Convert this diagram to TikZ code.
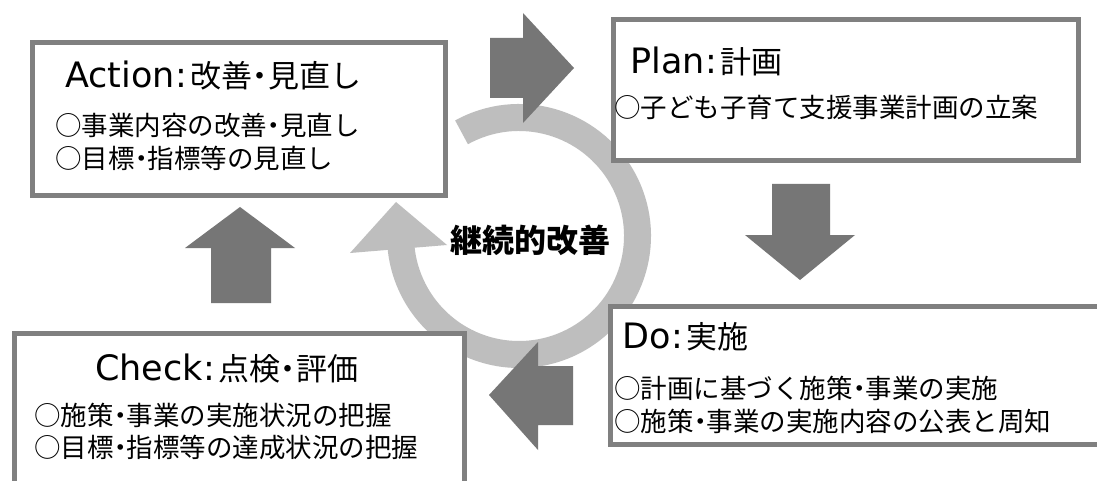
\documentclass[tikz,border=0pt]{standalone}
\usepackage{fontspec}
\setmainfont{Noto Sans CJK JP}
\newfontfamily\latfont{DejaVu Sans}
\usetikzlibrary{calc}
\definecolor{boxgray}{HTML}{808080}
\definecolor{arrowgray}{HTML}{767676}
\definecolor{ringgray}{HTML}{BEBEBE}
\newcommand{\latword}[1]{{\latfont\fontsize{35}{35}\selectfont #1}}
\newcommand{\pdcadot}{\kern-0.25em・\kern-0.25em}
\tikzset{
  pdcabox/.style={draw=boxgray, line width=5pt, fill=white, inner sep=0pt, rectangle},
  ttl/.style={anchor=base west, inner sep=0pt, font=\fontsize{31}{31}\selectfont},
  bodytxt/.style={anchor=base west, inner sep=0pt, font=\fontsize{26.5}{26.5}\selectfont},
  blockarrow/.style={fill=arrowgray, draw=none},
  ringpart/.style={ringgray},
}
\begin{document}
\begin{tikzpicture}[x=1pt,y=-1pt]
\useasboundingbox (0,0) rectangle (1097,481);
\clip (0,0) rectangle (1097,481);
\fill[white] (0,0) rectangle (1097,481);
\coordinate (rc) at (519,236);
% ring
\draw[ringpart, line width=27pt] ($(rc)+(-119:118.5)$) arc[start angle=-119, end angle=175, radius=118.5];
\fill[ringpart] (350,253) -- (396,202) -- (447,245) -- cycle;
% boxes
\node[pdcabox, minimum width=413pt, minimum height=153pt] (act) at (239,119) {};
\node[pdcabox, minimum width=465pt, minimum height=141pt] (plan) at (846,90) {};
\node[pdcabox, minimum width=497pt, minimum height=138pt] (do) at (859,375.5) {};
\node[pdcabox, minimum width=450pt, minimum height=164pt] (check) at (239.5,415.5) {};
% block arrows
\fill[blockarrow] (490,38) -- (523,38) -- (523,13) -- (574,68) -- (523,123) -- (523,98) -- (490,98) -- cycle;
\fill[blockarrow] (772,184) -- (830,184) -- (830,235) -- (855,235) -- (800,280) -- (745,235) -- (772,235) -- cycle;
\fill[blockarrow] (573,366) -- (573,425) -- (538,425) -- (538,450) -- (489,395) -- (538,342) -- (538,366) -- cycle;
\fill[blockarrow] (211,303) -- (271,303) -- (271,248) -- (295,248) -- (240,207) -- (185,248) -- (211,248) -- cycle;
% texts
\node[ttl] (actT) at (65,88) {\latword{Action\kern1pt:}\kern3pt 改善\pdcadot 見直し};
\node[bodytxt] (actB1) at (55,136) {○事業内容の改善\pdcadot 見直し};
\node[bodytxt] (actB2) at (55,169) {○目標\pdcadot 指標等の見直し};
\node[ttl] (planT) at (630,74) {\latword{Plan\kern1pt:}\kern3pt 計画};
\node[bodytxt] (planB1) at (614,118) {○子ども子育て支援事業計画の立案};
\node[ttl] (doT) at (622,348) {\latword{Do\kern1pt:}\kern3pt 実施};
\node[bodytxt] (doB1) at (614,398) {○計画に基づく施策\pdcadot 事業の実施};
\node[bodytxt] (doB2) at (614,431) {○施策\pdcadot 事業の実施内容の公表と周知};
\node[ttl] (checkT) at (95,380) {\latword{Check\kern1pt:}\kern3pt 点検\pdcadot 評価};
\node[bodytxt] (checkB1) at (34,425) {○施策\pdcadot 事業の実施状況の把握};
\node[bodytxt] (checkB2) at (34,457) {○目標\pdcadot 指標等の達成状況の把握};
\node[font=\bfseries\fontsize{32}{32}\selectfont] (kaizen) at (530,240) {継続的改善};
\end{tikzpicture}
\end{document}
